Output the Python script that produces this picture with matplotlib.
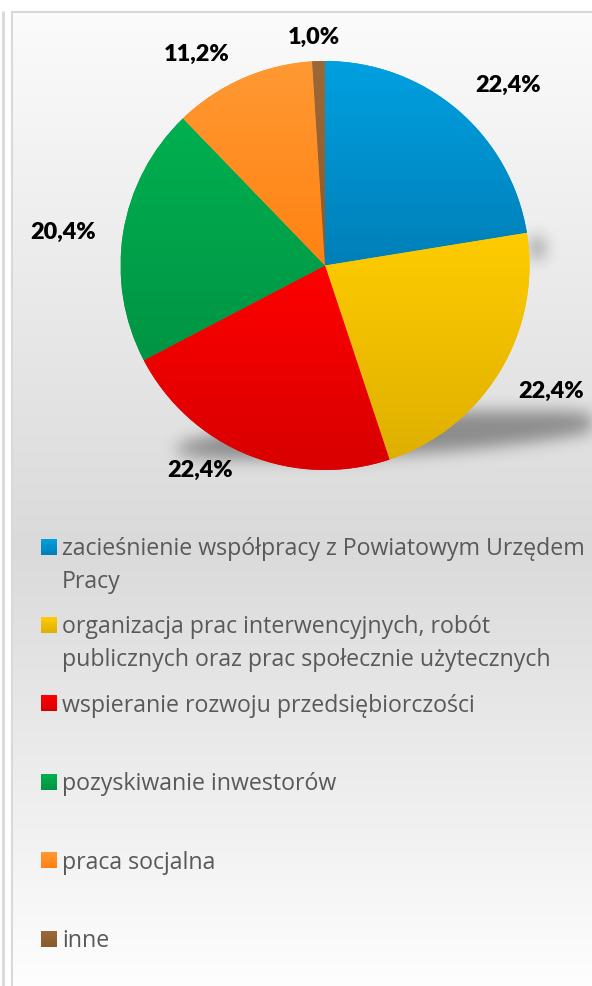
import numpy as np
import matplotlib
matplotlib.use("Agg")
import matplotlib.pyplot as plt
from matplotlib.colors import to_rgb

# ---------------- data ----------------
categories = [
    "zacieśnienie współpracy z Powiatowym Urzędem\nPracy",
    "organizacja prac interwencyjnych, robót\npublicznych oraz prac społecznie użytecznych",
    "wspieranie rozwoju przedsiębiorczości",
    "pozyskiwanie inwestorów",
    "praca socjalna",
    "inne",
]
values = [22.4, 22.4, 22.4, 20.4, 11.2, 1.0]
value_labels = ["22,4%", "22,4%", "22,4%", "20,4%", "11,2%", "1,0%"]

colors_top = ["#00a0e0", "#ffcc00", "#ff0000", "#00b050", "#ff9933", "#9c6838"]
colors_bottom = ["#007fb8", "#deaf00", "#d80000", "#009444", "#ff8212", "#8a5a2c"]

# ---------------- layout ----------------
W, H = 592, 987
FONT = ["Lato", "DejaVu Sans"]
LEG_FONT = ["Open Sans", "DejaVu Sans"]
fig = plt.figure(figsize=(W / 100, H / 100), dpi=100)
fig.patch.set_facecolor("white")

bg = fig.add_axes([0, 0, 1, 1])
bg.set_xlim(0, W)
bg.set_ylim(H, 0)
bg.axis("off")

# chart area background gradient
t = np.linspace(0, 1, 500)
g = np.interp(t, [0, 0.55, 1], [0.985, 0.855, 0.995])
bg.imshow(np.stack([g, g, g], axis=-1)[:, None, :], extent=(11, W, H, 12),
          aspect="auto", interpolation="bilinear", zorder=0)
# borders
bg.plot([2.5, 2.5], [12, H], color="#d8d8d8", lw=2, zorder=1, solid_capstyle="butt")
bg.plot([11.5, 11.5], [12, H], color="#d9d9d9", lw=1.5, zorder=1, solid_capstyle="butt")
bg.plot([11, W], [12.5, 12.5], color="#d9d9d9", lw=1.5, zorder=1, solid_capstyle="butt")

# soft shadow beneath the pie
x0s, x1s, y0s, y1s = 100, W, 200, 520
ys, xs = np.mgrid[y0s:y1s, x0s:x1s] + 0.5
th = np.deg2rad(3.7)
dx, dy = xs - 395, ys - 436
u = dx * np.cos(th) - dy * np.sin(th)
v = dx * np.sin(th) + dy * np.cos(th)
mask = ((u / 220) ** 2 + (v / 20) ** 2 <= 1).astype(float)
mask = np.maximum(mask, (((xs - 537) / 7) ** 2 + ((ys - 249) / 12) ** 2 <= 1).astype(float))
sig = 8
k = np.exp(-0.5 * (np.arange(-3 * sig, 3 * sig + 1) / sig) ** 2)
k /= k.sum()
blur = np.apply_along_axis(lambda r: np.convolve(r, k, mode="same"), 1, mask)
blur = np.apply_along_axis(lambda c: np.convolve(c, k, mode="same"), 0, blur)
rgba = np.zeros(blur.shape + (4,))
rgba[..., 3] = 0.38 * blur
bg.imshow(rgba, extent=(x0s, x1s, y1s, y0s), aspect="auto", interpolation="bilinear", zorder=2)

# pie
cx, cy, R = 325, 266.5, 204.5
ax = fig.add_axes([(cx - R) / W, (H - cy - R) / H, 2 * R / W, 2 * R / H])
ax.axis("off")
mid_colors = [tuple((np.array(to_rgb(a)) + np.array(to_rgb(b))) / 2)
              for a, b in zip(colors_top, colors_bottom)]
wedges, _ = ax.pie(values, startangle=90, counterclock=False, colors=mid_colors,
                   radius=1, wedgeprops=dict(linewidth=0))
for w, ct, cb in zip(wedges, colors_top, colors_bottom):
    ext = w.get_path().get_extents()
    s = np.linspace(0, 1, 256)[:, None]
    col = (1 - s) * np.array(to_rgb(ct)) + s * np.array(to_rgb(cb))
    im = ax.imshow(col[:, None, :], extent=(ext.x0, ext.x1, ext.y0, ext.y1), origin="upper",
                   aspect="auto", interpolation="bilinear", zorder=1.1)
    im.set_clip_path(w)
ax.set_xlim(-1, 1)
ax.set_ylim(-1, 1)

label_angle_offsets = [-4.8, 2.3, -9.5, 1.8, 7.4, 0.9]
label_dists = [1.26, 1.26, 1.17, 1.29, 1.21, 1.12]
for w, lab, off, d in zip(wedges, value_labels, label_angle_offsets, label_dists):
    a = np.deg2rad((w.theta1 + w.theta2) / 2 + off)
    ax.text(d * np.cos(a), d * np.sin(a), lab, ha="center", va="center",
            fontsize=16.8, fontweight="heavy", family=FONT, color="black", zorder=5)

# legend (manual, evenly spaced entries as in the original)
for i, (cat, ct, cb) in enumerate(zip(categories, colors_top, colors_bottom)):
    top = 540 + 78.4 * i
    s = np.linspace(0, 1, 32)[:, None]
    col = (1 - s) * np.array(to_rgb(ct)) + s * np.array(to_rgb(cb))
    bg.imshow(col[:, None, :], extent=(41, 56.5, top + 15.5, top), aspect="auto",
              interpolation="bilinear", zorder=3)
    for j, line in enumerate(cat.split("\n")):
        bg.text(62, top + 15 + 33 * j, line, ha="left", va="baseline", fontsize=16.7,
                color="#595959", family=LEG_FONT, zorder=4)

bg.set_xlim(0, W)
bg.set_ylim(H, 0)
fig.savefig("out.png", dpi=100)
